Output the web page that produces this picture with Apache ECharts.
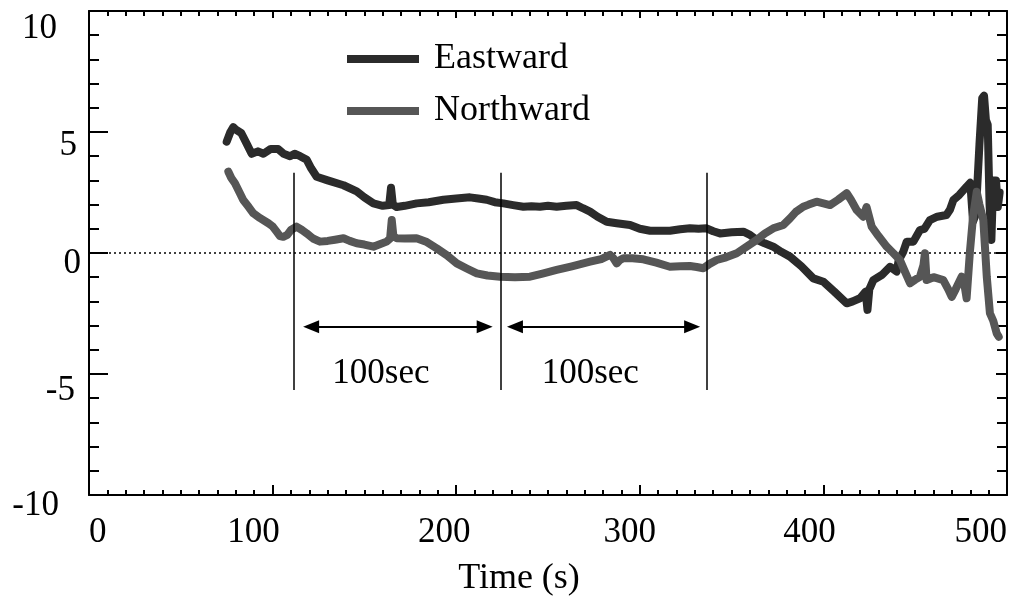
<!DOCTYPE html>
<html>
<head>
<meta charset="utf-8">
<title>Eastward / Northward</title>
<script src="https://cdn.jsdelivr.net/npm/echarts@6.0.0/dist/echarts.min.js"></script>
<style>
  html, body { margin: 0; padding: 0; background: #fff; }
  #chart { width: 1017px; height: 605px; }
</style>
</head>
<body>
<div id="chart"></div>
<script>
// time (s) and values
const eastT = [75, 77, 78.6, 80, 83, 86, 88.6, 92, 95, 99, 103, 106, 109.5, 112, 115, 118.6, 121, 124, 130, 138.6,
  145.8, 150, 154.9, 160, 163.5, 164.5, 165.5, 167.6, 172, 178.5, 185, 193, 200, 207.5, 212, 216.6, 221, 225.7, 231, 236.6,
  241, 245.6, 250, 254.7, 260, 265.6, 269, 272.9, 277, 282, 287.4, 294.7, 300, 305.6, 311, 316.4, 322, 327.3, 332, 336.4,
  340, 343.7, 350, 356.4, 360, 363.7, 368, 372.7, 377, 381.8, 388, 394.5, 400, 406, 412.7, 416, 419.9, 423, 424, 425,
  427.2, 432, 436.3, 439.9, 441, 443.5, 445.4, 449, 452.6, 455, 458, 462, 467, 469, 470.8, 474, 478, 480, 481.5, 483,
  485, 486.5, 487.5, 488.5, 489.5, 490.5, 491.5, 492.5, 494, 495, 496];
const eastV = [4.6, 5.0, 5.2, 5.1, 4.95, 4.5, 4.1, 4.2, 4.1, 4.3, 4.3, 4.1, 4.0, 4.1, 4.0, 3.85, 3.5, 3.15, 3.0, 2.8,
  2.55, 2.3, 2.05, 1.95, 1.98, 2.7, 2.0, 1.9, 1.95, 2.05, 2.1, 2.2, 2.25, 2.3, 2.25, 2.2, 2.1, 2.05, 1.98, 1.91,
  1.93, 1.91, 1.95, 1.91, 1.95, 1.98, 1.85, 1.71, 1.5, 1.29, 1.23, 1.16, 1.0, 0.92, 0.92, 0.92, 0.98, 1.02, 1.0, 1.02,
  0.9, 0.81, 0.86, 0.88, 0.75, 0.54, 0.4, 0.26, 0.05, -0.15, -0.55, -1.05, -1.19, -1.6, -2.08, -2.0, -1.87, -1.6, -2.35, -1.5,
  -1.12, -0.9, -0.57, -0.77, -0.3, 0.05, 0.47, 0.47, 0.95, 1.0, 1.36, 1.5, 1.57, 1.8, 2.19, 2.4, 2.74, 2.9, 1.3, 1.6,
  4.5, 6.4, 6.5, 5.5, 5.3, 2.0, 0.54, 3.0, 3.0, 1.9, 2.5];

const northT = [75.9, 77.5, 79.5, 82, 84, 87, 89.5, 93, 97.7, 100, 102.2, 104, 105.8, 108, 110, 113, 116, 118.6, 122, 125.8,
  130, 134, 138.6, 142, 145.8, 150, 154.9, 158, 162.1, 164, 164.9, 165.8, 167.6, 172, 178.4, 184, 189.4, 195, 200.3, 206,
  211.2, 217, 223.9, 232, 240.2, 247, 254.7, 263, 272.9, 279, 283.8, 285.5, 287.4, 289, 291, 296, 301.9, 309, 316.4, 322,
  327.3, 331, 334.6, 338, 341.9, 347, 352.8, 358, 363.7, 368, 372.7, 378.2, 381.8, 385, 389, 392, 396.3, 400, 403.6, 408,
  412.7, 415, 418.1, 421.7, 423.5, 424.5, 426.3, 430, 434.5, 438, 441.7, 444, 447.2, 450, 452.6, 454.5, 455.3, 456.2, 460, 465.3,
  468, 469.9, 472, 475.3, 477, 478, 479.8, 481.5, 483.5, 485, 487.1, 489, 490.7, 492.5, 494.4, 495.5];
const northV = [3.36, 3.1, 2.88, 2.5, 2.19, 1.9, 1.64, 1.45, 1.23, 1.1, 0.88, 0.7, 0.67, 0.75, 0.95, 1.09, 0.95, 0.81, 0.6, 0.47,
  0.5, 0.55, 0.61, 0.5, 0.4, 0.35, 0.26, 0.35, 0.47, 0.6, 1.36, 0.7, 0.61, 0.6, 0.61, 0.45, 0.19, -0.1, -0.43, -0.65,
  -0.84, -0.93, -0.98, -1.0, -0.98, -0.85, -0.7, -0.55, -0.36, -0.25, -0.08, -0.2, -0.43, -0.3, -0.22, -0.22, -0.26, -0.4, -0.57, -0.55,
  -0.54, -0.58, -0.63, -0.45, -0.29, -0.18, -0.01, 0.25, 0.54, 0.8, 1.02, 1.16, 1.43, 1.7, 1.91, 2.0, 2.12, 2.05, 1.98, 2.2,
  2.47, 2.2, 1.78, 1.5, 1.9, 1.98, 1.09, 0.7, 0.26, 0.0, -0.29, -0.7, -1.25, -1.1, -0.98, -0.5, -0.01, -1.12, -1.0, -1.12,
  -1.5, -1.81, -1.5, -0.98, -1.4, -1.87, 0.05, 1.5, 2.53, 2.0, 1.36, -1.0, -2.49, -2.8, -3.32, -3.46];

// window markers and "100sec" spans
const markerT = [111.6, 224.4, 336.6];
const markerTop = 3.32;
const markerBottom = -5.66;
const spanStart = [121, 232];
const spanEnd = [215.5, 328.5];
const spanLevel = -3.05;
const spanLabelT = [159, 273];
const spanLabelV = -5.0;
const spanLabel = '100sec';

const seriesNames = ['Eastward', 'Northward'];

const font = 'Liberation Serif, Times New Roman, serif';

function pairs(t, v) {
  return t.map((x, i) => [x, v[i]]);
}

// tweak label positions a bit so they sit like in the original
const xShift = { 100: 38, 200: 24, 300: 20, 400: 28 };
const xRich = {};
Object.keys(xShift).forEach(k => {
  xRich['x' + k] = { fontFamily: font, fontSize: 35, color: '#000', padding: [0, xShift[k], 0, 0] };
});
xRich.plain = { fontFamily: font, fontSize: 35, color: '#000' };

const yShift = { '10': [36, 24], '5': [28, 4], '0': [22, 0], '-5': [34, 6], '-10': [22, 22] };
const yRich = {};
Object.keys(yShift).forEach((k, i) => {
  yRich['y' + i] = { fontFamily: font, fontSize: 35, color: '#000', padding: [yShift[k][0], yShift[k][1], 0, 0] };
});
const yKeys = Object.keys(yShift);

const chart = echarts.init(document.getElementById('chart'));

chart.setOption({
  animation: false,
  backgroundColor: '#fff',
  grid: { left: 89, right: 10, top: 11, bottom: 110, containLabel: false, outerBoundsMode: 'none' },
  legend: {
    data: seriesNames,
    orient: 'vertical',
    left: 342,
    top: 27,
    icon: 'rect',
    itemWidth: 72,
    itemHeight: 8,
    itemGap: -2,
    lineStyle: { width: 8, cap: 'butt' },
    textStyle: { fontFamily: font, fontSize: 36, lineHeight: 40, color: '#000', padding: [14, 0, 0, 10] }
  },
  xAxis: [
    {
      type: 'value',
      min: 0,
      max: 500,
      interval: 100,
      position: 'bottom',
      name: 'Time (s)',
      nameLocation: 'middle',
      nameGap: 66,
      nameTextStyle: { fontFamily: font, fontSize: 36, color: '#000', padding: [0, 58, 0, 0] },
      axisLine: { onZero: false, lineStyle: { color: '#000', width: 2 } },
      axisTick: { inside: true, length: 10, lineStyle: { color: '#000', width: 2 } },
      minorTick: { show: true, splitNumber: 10, length: 5, lineStyle: { color: '#000', width: 2 } },
      splitLine: { show: false },
      axisLabel: {
        margin: 20,
        alignMinLabel: 'left',
        alignMaxLabel: 'right',
        formatter: function (v) {
          return xShift[v] ? '{x' + v + '|' + v + '}' : '{plain|' + v + '}';
        },
        rich: xRich
      }
    },
    {
      type: 'value',
      min: 0,
      max: 500,
      interval: 100,
      position: 'top',
      axisLine: { onZero: false, lineStyle: { color: '#000', width: 2 } },
      axisTick: { inside: true, length: 7, lineStyle: { color: '#000', width: 2 } },
      minorTick: { show: true, splitNumber: 10, length: 5, lineStyle: { color: '#000', width: 2 } },
      splitLine: { show: false },
      axisLabel: { show: false }
    }
  ],
  yAxis: [
    {
      type: 'value',
      min: -10,
      max: 10,
      interval: 5,
      position: 'left',
      axisLine: { onZero: false, lineStyle: { color: '#000', width: 2 } },
      axisTick: { inside: true, length: 19, lineStyle: { color: '#000', width: 2 } },
      minorTick: { show: true, splitNumber: 5, length: 10, lineStyle: { color: '#000', width: 2 } },
      splitLine: { show: false },
      axisLabel: {
        margin: 8,
        formatter: function (v) {
          return '{y' + yKeys.indexOf(String(v)) + '|' + v + '}';
        },
        rich: yRich
      }
    },
    {
      type: 'value',
      min: -10,
      max: 10,
      interval: 5,
      position: 'right',
      axisLine: { onZero: false, lineStyle: { color: '#000', width: 2 } },
      axisTick: { inside: true, length: 11, lineStyle: { color: '#000', width: 2 } },
      minorTick: { show: true, splitNumber: 5, length: 10, lineStyle: { color: '#000', width: 2 } },
      splitLine: { show: false },
      axisLabel: { show: false }
    }
  ],
  series: [
    {
      name: 'zero',
      type: 'line',
      data: [[0, 0], [500, 0]],
      showSymbol: false,
      silent: true,
      z: 1,
      lineStyle: { color: '#000', width: 1.5, type: [2, 3] }
    },
    {
      name: 'Eastward',
      type: 'line',
      data: pairs(eastT, eastV),
      showSymbol: false,
      sampling: 'none',
      color: '#2b2b2b',
      z: 2,
      lineStyle: { color: '#2b2b2b', width: 8, cap: 'round', join: 'round' }
    },
    {
      name: 'Northward',
      type: 'line',
      data: pairs(northT, northV),
      showSymbol: false,
      sampling: 'none',
      color: '#565656',
      z: 3,
      lineStyle: { color: '#565656', width: 8, cap: 'round', join: 'round' }
    },
    {
      name: 'markers',
      type: 'line',
      data: [],
      z: 4,
      markLine: {
        silent: true,
        animation: false,
        symbol: 'none',
        label: { show: false },
        lineStyle: { color: '#000', width: 1.5, type: 'solid' },
        data: markerT.map(t => [{ coord: [t, markerTop] }, { coord: [t, markerBottom] }])
      }
    },
    {
      name: 'spans',
      type: 'line',
      data: [],
      z: 4,
      markLine: {
        silent: true,
        animation: false,
        symbol: ['triangle', 'triangle'],
        symbolSize: [13, 16],
        label: { show: false },
        lineStyle: { color: '#000', width: 2, type: 'solid' },
        itemStyle: { color: '#000' },
        data: spanStart.map((s, i) => [{ coord: [s, spanLevel] }, { coord: [spanEnd[i], spanLevel] }])
      },
      markPoint: {
        silent: true,
        animation: false,
        symbol: 'circle',
        symbolSize: 0,
        label: {
          show: true,
          position: 'inside',
          formatter: spanLabel,
          fontFamily: font,
          fontSize: 35,
          color: '#000'
        },
        data: spanLabelT.map(t => ({ coord: [t, spanLabelV] }))
      }
    }
  ]
});
</script>
</body>
</html>
